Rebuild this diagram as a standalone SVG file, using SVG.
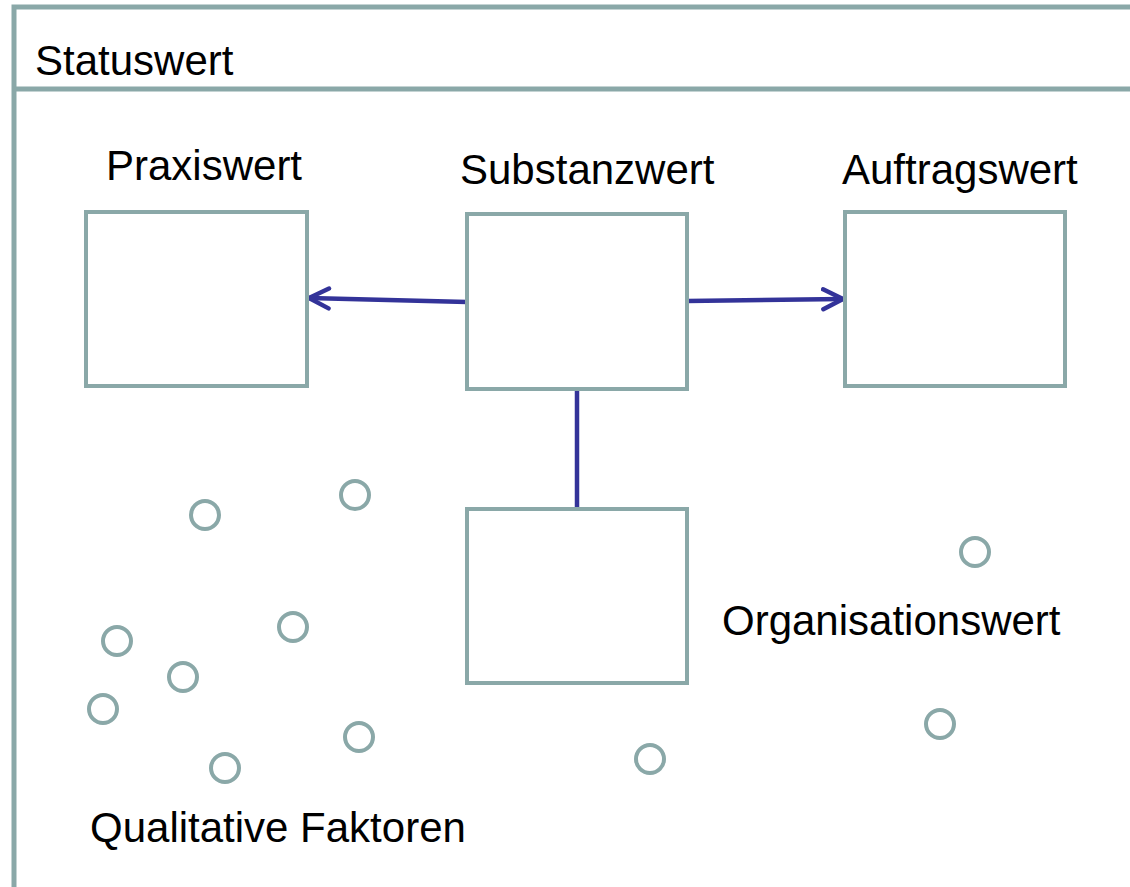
<svg xmlns="http://www.w3.org/2000/svg" width="1130" height="887" viewBox="0 0 1130 887">
<style>
.frame{fill:none;stroke:#8aa8a8;stroke-width:5}
.box{fill:#fff;stroke:#8aa8a8;stroke-width:4}
.dot{fill:none;stroke:#8aa8a8;stroke-width:4}
.t{font-family:"Liberation Sans",Arial,sans-serif;font-size:42px;fill:#000}
.con{stroke:#333399;stroke-width:4.5;fill:none}
</style>
<defs>
<marker id="ah" viewBox="0 0 10 10" refX="9" refY="5" markerWidth="5.5" markerHeight="5.5" orient="auto" markerUnits="strokeWidth">
<path d="M1,1 L9,5 L1,9" fill="none" stroke="#333399" stroke-width="1.8" stroke-linecap="round" stroke-linejoin="round"/>
</marker>
</defs>
<rect width="1130" height="887" fill="#fff"/>
<g id="frame">
<path class="frame" d="M1130,7 H14 V887 M14,89 H1130"/>
<text class="t" x="35" y="75">Statuswert</text>
</g>
<g id="connectors">
<line class="con" x1="467" y1="302" x2="309" y2="298" marker-end="url(#ah)"/>
<line class="con" x1="687" y1="301" x2="843" y2="299" marker-end="url(#ah)"/>
<line class="con" x1="577" y1="389" x2="577" y2="509"/>
</g>
<g id="praxiswert">
<rect class="box" x="86" y="212" width="221" height="174"/>
<text class="t" x="106" y="180">Praxiswert</text>
</g>
<g id="substanzwert">
<rect class="box" x="467" y="214" width="220" height="175"/>
<text class="t" x="460" y="184">Substanzwert</text>
</g>
<g id="auftragswert">
<rect class="box" x="845" y="212" width="220" height="174"/>
<text class="t" x="842" y="184">Auftragswert</text>
</g>
<g id="organisationswert">
<rect class="box" x="467" y="509" width="220" height="174"/>
<text class="t" x="722" y="635">Organisationswert</text>
</g>
<g id="qualitative-faktoren">
<circle class="dot" cx="205" cy="515" r="14"/>
<circle class="dot" cx="355" cy="495" r="14"/>
<circle class="dot" cx="117" cy="641" r="14"/>
<circle class="dot" cx="293" cy="627" r="14"/>
<circle class="dot" cx="183" cy="677" r="14"/>
<circle class="dot" cx="103" cy="709" r="14"/>
<circle class="dot" cx="359" cy="737" r="14"/>
<circle class="dot" cx="225" cy="768" r="14"/>
<circle class="dot" cx="650" cy="759" r="14"/>
<circle class="dot" cx="975" cy="552" r="14"/>
<circle class="dot" cx="940" cy="724" r="14"/>
<text class="t" x="90" y="842">Qualitative Faktoren</text>
</g>
</svg>
